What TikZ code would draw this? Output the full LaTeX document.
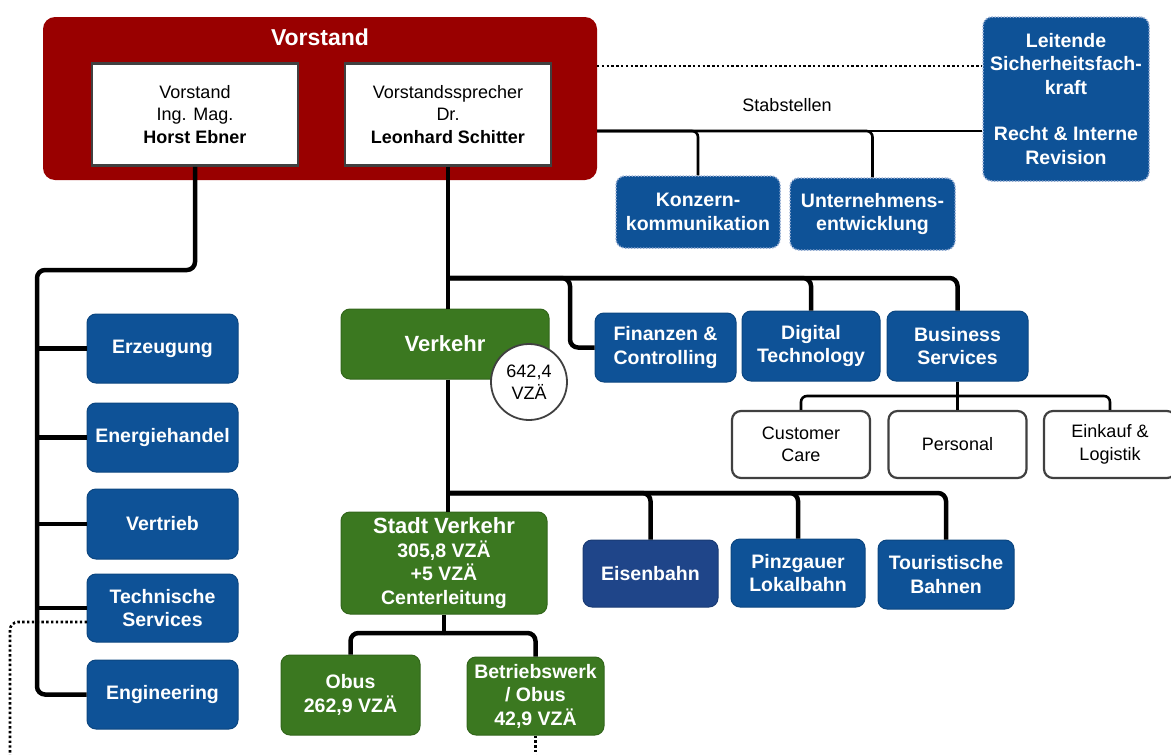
\documentclass[tikz,border=0pt]{standalone}
\usepackage{fontspec}
\setmainfont{Liberation Sans}
\definecolor{boardred}{HTML}{990000}
\definecolor{unitblue}{HTML}{0E5297}
\definecolor{railblue}{HTML}{1F4589}
\definecolor{traffgreen}{HTML}{3B7820}
\definecolor{staffedge}{HTML}{8FA8D0}
\definecolor{boxgrey}{HTML}{404040}

\begin{document}
\begin{tikzpicture}[x=1pt, y=-1pt,
  every node/.style={align=center, inner sep=0pt, font=\fontsize{18}{22.5}\selectfont},
  board/.style={rectangle, rounded corners=12pt, fill=boardred},
  person/.style={rectangle, fill=white, draw=boxgrey, line width=2.5pt},
  unit/.style={rectangle, rounded corners=9pt, fill=unitblue, draw=unitblue!85!black,
    line width=1pt, text=white, font=\fontsize{19.5}{23.5}\selectfont\bfseries},
  staff/.style={unit, draw=staffedge, dash pattern=on 1.5pt off 1.5pt, line width=1.5pt},
  traffic/.style={unit, fill=traffgreen, draw=traffgreen!85!black},
  service/.style={rectangle, rounded corners=9pt, fill=white, draw=boxgrey, line width=2.2pt},
  tree/.style={line width=4.5pt, rounded corners=8pt},
  subline/.style={line width=2.6pt, rounded corners=6pt},
  dotline/.style={line width=2.6pt, dash pattern=on 2.4pt off 2.4pt, rounded corners=8pt}
]
\useasboundingbox (0,0) rectangle (1171,755);

% Vorstand
\node[board, minimum width=554pt, minimum height=163pt] (vorstand) at (320,98.5) {};
\node[text=white, font=\fontsize{23}{27}\selectfont\bfseries] (vorstandtitle) at (320,37) {Vorstand};
\node[person, minimum width=206pt, minimum height=102pt] (horst) at (195,114.5)
  {Vorstand\\Ing. Mag.\\\textbf{Horst Ebner}};
\node[person, minimum width=206pt, minimum height=102pt] (leonhard) at (448,114.5)
  {Vorstandssprecher\\Dr.\\\textbf{Leonhard Schitter}};

% Stabstellen
\node[staff, minimum width=166pt, minimum height=164pt] (leitende) at (1066,99)
  {Leitende\\Sicherheitsfach-\\kraft\\[23pt]Recht \& Interne\\Revision};
\node[staff, minimum width=164pt, minimum height=72pt] (konzern) at (698,212)
  {Konzern-\\kommunikation};
\node[staff, minimum width=165pt, minimum height=72pt] (unternehmen) at (872.5,214)
  {Unternehmens-\\entwicklung};
\node (stablabel) at (787,105) {Stabstellen};

% Energie
\node[unit, minimum width=151pt, minimum height=69pt] (erzeugung) at (162.5,348.5) {Erzeugung};
\node[unit, minimum width=151pt, minimum height=69pt] (energiehandel) at (162.5,437.5) {Energiehandel};
\node[unit, minimum width=151pt, minimum height=70pt] (vertrieb) at (162.5,524) {Vertrieb};
\node[unit, minimum width=151pt, minimum height=68pt] (technische) at (162.5,608) {Technische\\Services};
\node[unit, minimum width=151pt, minimum height=69pt] (engineering) at (162.5,694.5) {Engineering};

% Verkehr
\node[traffic, minimum width=208pt, minimum height=70pt, font=\fontsize{22}{26}\selectfont\bfseries]
  (verkehr) at (445,344) {Verkehr};
\node[circle, draw=boxgrey, line width=1.8pt, fill=white, minimum size=76pt]
  (verkehrvza) at (529,382) {642,4\\VZÄ};
\node[traffic, minimum width=206pt, minimum height=102pt] (stadt) at (444,563)
  {{\fontsize{22}{23}\selectfont Stadt Verkehr}\\305,8 VZÄ\\+5 VZÄ\\Centerleitung};
\node[traffic, minimum width=139pt, minimum height=80pt] (obus) at (350.5,695) {Obus\\262,9 VZÄ};
\node[traffic, minimum width=137pt, minimum height=78pt] (betriebswerk) at (535.5,696)
  {Betriebswerk\\/ Obus\\42,9 VZÄ};

\node[unit, minimum width=141pt, minimum height=69pt] (finanzen) at (665.5,347.5) {Finanzen \&\\Controlling};
\node[unit, minimum width=138pt, minimum height=70pt] (digital) at (811,346) {Digital\\Technology};
\node[unit, minimum width=141pt, minimum height=70pt] (business) at (957.5,346) {Business\\Services};
\node[service, minimum width=138pt, minimum height=67pt] (customer) at (801,444.5) {Customer\\Care};
\node[service, minimum width=138pt, minimum height=67pt] (personal) at (957.5,444.5) {Personal};
\node[service, minimum width=132pt, minimum height=67pt] (einkauf) at (1110,444.5) {Einkauf \&\\Logistik};

\node[unit, fill=railblue, draw=railblue!85!black, minimum width=135pt, minimum height=67pt]
  (eisenbahn) at (650.5,573.5) {Eisenbahn};
\node[unit, minimum width=134pt, minimum height=68pt] (pinzgauer) at (798,573) {Pinzgauer\\Lokalbahn};
\node[unit, minimum width=136pt, minimum height=69pt] (touristische) at (946,574.5) {Touristische\\Bahnen};

% Verbindungen
\coordinate (lefttop) at (37,270);
\coordinate (vtop) at (448,278);
\coordinate (vlow) at (448,493);
\coordinate (bsbar) at (957.5,396);
\coordinate (svbar) at (444,633);
\coordinate (stableft) at (597,131);
\coordinate (dotleft) at (597,66);
\coordinate (tsdot) at (87,622);
\coordinate (pagefoot) at (10,755);

\draw[tree] (horst.south) |- (lefttop) |- (engineering.west);
\foreach \unitname in {erzeugung,energiehandel,vertrieb,technische}
  \draw[tree] (lefttop |- \unitname.west) -- (\unitname.west);

\draw[tree] (leonhard.south) -- (leonhard.south |- verkehr.north);
\draw[tree] (leonhard.south |- verkehr.south) |- (vlow) -- (vlow |- stadt.north);
\draw[tree] (vtop) -| (business.north);
\draw[tree] (vtop) -| (digital.north);
\draw[tree] (vtop) -| (570,347.5) -- (finanzen.west);
\foreach \unitname in {eisenbahn,pinzgauer,touristische}
  \draw[tree] (vlow) -| (\unitname.north);

\draw[subline] (business.south) -- (personal.north);
\draw[subline] (bsbar) -| (customer.north);
\draw[subline] (bsbar) -| (einkauf.north);

\draw[tree] (stadt.south) -- (svbar);
\draw[tree] (svbar) -| (obus.north);
\draw[tree] (svbar) -| (betriebswerk.north);

\draw[subline] (stableft) -- (stableft -| leitende.west);
\draw[subline] (stableft) -| (konzern.north);
\draw[subline] (stableft) -| (unternehmen.north);

\draw[dotline] (dotleft) -- (dotleft -| leitende.west);
\draw[dotline] (tsdot) -| (pagefoot);
\draw[dotline] (betriebswerk.south) -- (betriebswerk.south |- pagefoot);

\end{tikzpicture}
\end{document}
